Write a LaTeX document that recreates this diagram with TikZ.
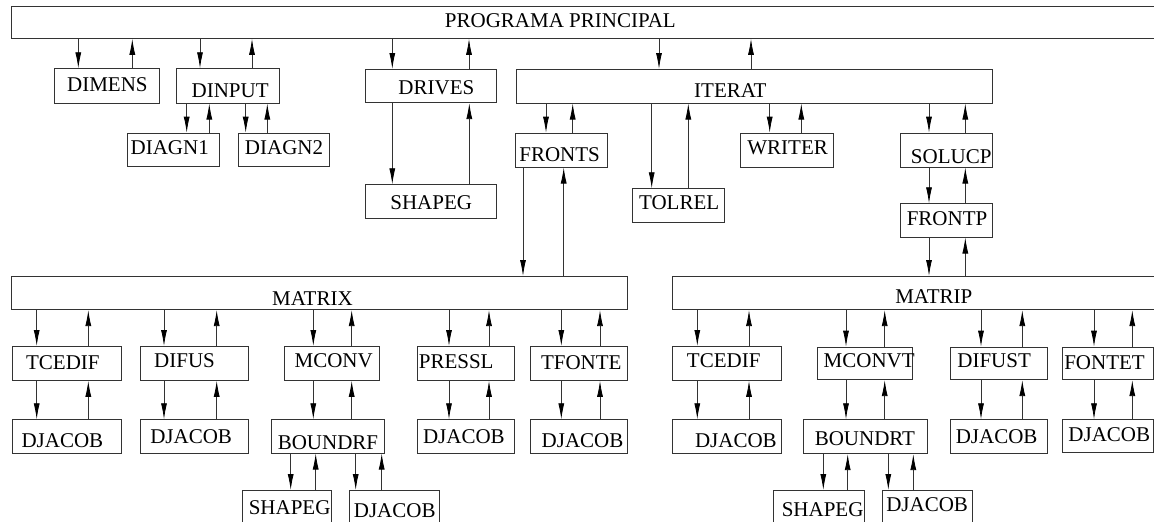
\documentclass[tikz,border=0pt]{standalone}
\usepackage{fontspec}
\setmainfont{Liberation Serif}
\usetikzlibrary{arrows.meta}
\tikzset{
  box/.style={draw=black!80, line width=0.8pt, rectangle, inner sep=0pt,
    font=\fontsize{21}{25}\selectfont, text height=13.8pt, text depth=0pt},
  arr/.style={draw=black!80, line width=0.8pt, -{Latex[length=16pt,width=6pt,black]}}
}
% name, x1, y1, x2, y2, text dx, text dy (down), text
\newcommand\mybox[8]{\node[box,anchor=north west,minimum width={(#4)-(#2)},minimum height={(#5)-(#3)}] (#1) at (#2,#3) {\hspace*{#6pt}\raisebox{-#7pt}{#8}\hspace*{-#6pt}};}
\newcommand\dnarr[3]{\draw[arr] (#3,0 |- #1.south) -- (#3,0 |- #2.north);}
\newcommand\uparr[3]{\draw[arr] (#3,0 |- #1.north) -- (#3,0 |- #2.south);}
\begin{document}
\begin{tikzpicture}[x=1pt,y=-1pt]
\useasboundingbox (0,0) rectangle (1154,522);
\clip (0,0) rectangle (1154,522);
\mybox{top}{10.6}{6}{1170}{38}{-30.3}{-1.5}{PROGRAMA PRINCIPAL}
\mybox{dimens}{54.3}{68.3}{158.7}{102.7}{0.5}{-1.4}{DIMENS}
\mybox{dinput}{175.7}{68.3}{279.3}{102.7}{2.2}{4.7}{DINPUT}
\mybox{diagnA}{126.7}{132.7}{218.7}{165.7}{-3.4}{-1.7}{DIAGN1}
\mybox{diagnB}{238}{132.7}{329.3}{165.7}{0}{-1.7}{DIAGN2}
\mybox{drives}{365}{69}{496}{102.3}{5.5}{1.1}{DRIVES}
\mybox{shapegA}{365}{184.3}{496}{218.3}{0.3}{0.5}{SHAPEG}
\mybox{iterat}{516}{69}{991.7}{102.7}{-23.9}{4.3}{ITERAT}
\mybox{fronts}{514.7}{132.7}{607}{166.7}{-1.6}{4.5}{FRONTS}
\mybox{tolrel}{632}{188.3}{723.7}{222}{0.9}{-2.6}{TOLREL}
\mybox{writer}{740.3}{132.7}{832.7}{166.7}{0.7}{-2.2}{WRITER}
\mybox{solucp}{900}{132.7}{992.3}{166.7}{4.7}{6.5}{SOLUCP}
\mybox{frontp}{900}{203.3}{992.3}{236.7}{0.5}{-1.5}{FRONTP}
\mybox{matrix}{10.7}{276}{627.3}{309.3}{-7}{5.9}{MATRIX}
\mybox{matrip}{672.3}{276}{1170}{309.3}{12.2}{3.2}{MATRIP}
\mybox{tcedifA}{12.3}{346}{121}{380}{-4.2}{-0.5}{TCEDIF}
\mybox{djacobA}{12.3}{419.3}{121}{453.3}{-4.7}{3.9}{DJACOB}
\mybox{difus}{140}{346}{248.3}{380}{-10}{-2.8}{DIFUS}
\mybox{djacobB}{140}{419.3}{248.3}{453.3}{-3.4}{-0.1}{DJACOB}
\mybox{mconv}{284}{346}{379}{380}{1.8}{-2.8}{MCONV}
\mybox{boundrf}{270.7}{419.3}{384}{452.7}{0.2}{5.8}{BOUNDRF}
\mybox{shapegB}{241.7}{490}{331}{540}{2.9}{-7.5}{SHAPEG}
\mybox{djacobC}{349.3}{490}{439.3}{540}{0}{-4.8}{DJACOB}
\mybox{pressl}{417.3}{346}{514.3}{380}{-10}{-2.2}{PRESSL}
\mybox{djacobD}{417.3}{419.3}{514.3}{453.3}{-2.3}{-0.1}{DJACOB}
\mybox{tfonte}{530}{346}{627.3}{380}{2.2}{-0.5}{TFONTE}
\mybox{djacobE}{530}{419.3}{627.3}{453.3}{3.5}{3.9}{DJACOB}
\mybox{tcedifB}{672.3}{346}{780.7}{380}{-3.2}{-2.8}{TCEDIF}
\mybox{djacobF}{672.3}{419.3}{780.7}{453.3}{9}{3.9}{DJACOB}
\mybox{mconvt}{817.3}{346.7}{911.7}{379.3}{4.3}{-2.8}{MCONVT}
\mybox{boundrt}{803.3}{419.3}{927.3}{453.3}{-0.8}{2.2}{BOUNDRT}
\mybox{shapegC}{773.3}{490}{864}{540}{3.6}{-5.5}{SHAPEG}
\mybox{djacobG}{881.7}{490}{972.3}{540}{-0.3}{-10.5}{DJACOB}
\mybox{difust}{950}{346.7}{1047.3}{379.3}{-4.9}{-2.8}{DIFUST}
\mybox{djacobH}{950}{419.3}{1047.3}{453.3}{-2.4}{-0.1}{DJACOB}
\mybox{fontet}{1062.3}{346.7}{1153}{379.3}{-3.5}{-0.5}{FONTET}
\mybox{djacobI}{1062.3}{419.3}{1153}{452.3}{1.2}{-1.6}{DJACOB}
% connectors
\dnarr{top}{dimens}{78.3}   \uparr{dimens}{top}{132.3}
\dnarr{top}{dinput}{200}    \uparr{dinput}{top}{252}
\dnarr{dinput}{diagnA}{186.7} \uparr{diagnA}{dinput}{209.3}
\dnarr{dinput}{diagnB}{245.7} \uparr{diagnB}{dinput}{267.3}
\dnarr{top}{drives}{392.3}  \uparr{drives}{top}{469}
\dnarr{drives}{shapegA}{392.3} \uparr{shapegA}{drives}{469.3}
\dnarr{top}{iterat}{659}    \uparr{iterat}{top}{751}
\dnarr{iterat}{fronts}{546} \uparr{fronts}{iterat}{572.7}
\dnarr{fronts}{matrix}{523} \uparr{matrix}{fronts}{563.7}
\dnarr{iterat}{tolrel}{651.7} \uparr{tolrel}{iterat}{688.3}
\dnarr{iterat}{writer}{769.7} \uparr{writer}{iterat}{801.3}
\dnarr{iterat}{solucp}{929} \uparr{solucp}{iterat}{965.3}
\dnarr{solucp}{frontp}{929} \uparr{frontp}{solucp}{965.3}
\dnarr{frontp}{matrip}{929} \uparr{matrip}{frontp}{965.3}
\dnarr{matrix}{tcedifA}{36.7} \uparr{tcedifA}{matrix}{88.3}
\dnarr{tcedifA}{djacobA}{36.7} \uparr{djacobA}{tcedifA}{88.3}
\dnarr{matrix}{difus}{164} \uparr{difus}{matrix}{216.7}
\dnarr{difus}{djacobB}{164} \uparr{djacobB}{difus}{216.7}
\dnarr{matrix}{mconv}{313.3} \uparr{mconv}{matrix}{351.7}
\dnarr{mconv}{boundrf}{313.3} \uparr{boundrf}{mconv}{351.7}
\dnarr{boundrf}{shapegB}{290.7} \uparr{shapegB}{boundrf}{315.7}
\dnarr{boundrf}{djacobC}{355.7} \uparr{djacobC}{boundrf}{381.7}
\dnarr{matrix}{pressl}{449} \uparr{pressl}{matrix}{489}
\dnarr{pressl}{djacobD}{449} \uparr{djacobD}{pressl}{489}
\dnarr{matrix}{tfonte}{561.3} \uparr{tfonte}{matrix}{600}
\dnarr{tfonte}{djacobE}{561.3} \uparr{djacobE}{tfonte}{600}
\dnarr{matrip}{tcedifB}{697.3} \uparr{tcedifB}{matrip}{749}
\dnarr{tcedifB}{djacobF}{697.3} \uparr{djacobF}{tcedifB}{749}
\dnarr{matrip}{mconvt}{846} \uparr{mconvt}{matrip}{884.7}
\dnarr{mconvt}{boundrt}{846} \uparr{boundrt}{mconvt}{884.7}
\dnarr{boundrt}{shapegC}{823.3} \uparr{shapegC}{boundrt}{847.7}
\dnarr{boundrt}{djacobG}{888.3} \uparr{djacobG}{boundrt}{913.3}
\dnarr{matrip}{difust}{981} \uparr{difust}{matrip}{1022.3}
\dnarr{difust}{djacobH}{981} \uparr{djacobH}{difust}{1022.3}
\dnarr{matrip}{fontet}{1094} \uparr{fontet}{matrip}{1132.3}
\dnarr{fontet}{djacobI}{1094} \uparr{djacobI}{fontet}{1132.3}
\end{tikzpicture}
\end{document}
